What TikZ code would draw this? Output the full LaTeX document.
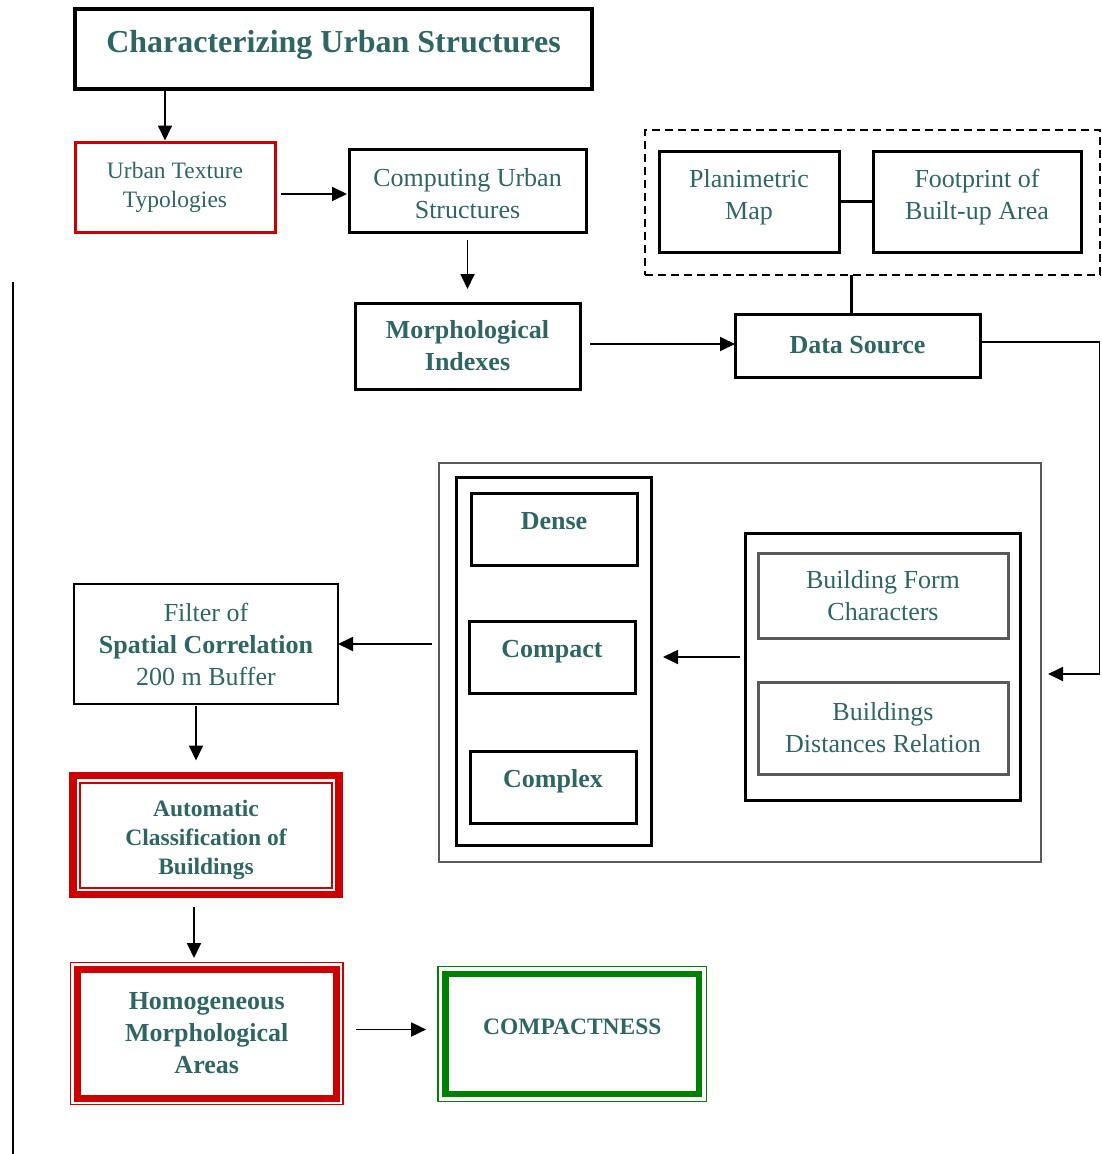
\documentclass[tikz,border=0pt]{standalone}
\usepackage{fontspec}
\setmainfont{Liberation Serif}
\usetikzlibrary{arrows.meta}

\definecolor{ink}{RGB}{47,102,97}
\definecolor{boxred}{RGB}{204,0,0}
\definecolor{boxgreen}{RGB}{0,128,0}
\definecolor{framegray}{RGB}{90,90,90}

\newcommand{\bodyfont}{\fontsize{26}{32}\selectfont}
\newcommand{\smallfont}{\fontsize{23.5}{29}\selectfont}
\newcommand{\headfont}{\fontsize{32}{38}\selectfont\bfseries}

\tikzset{
  box/.style={draw, line width=3pt, text=ink, align=center, font=\bodyfont, inner sep=0pt, outer sep=0pt},
  frame/.style={draw, line width=3pt, outer sep=0pt},
  lift/.style={text height=18pt, text depth=17pt},
  flow/.style={-{Triangle[length=15pt,width=14pt]}, line width=1.8pt},
}

\begin{document}
\begin{tikzpicture}[x=1pt,y=-1pt]
	\useasboundingbox (0,0) rectangle (1101,1154);
	
	% top row
	\node (title) [box, line width=4pt, font=\headfont, minimum width=517pt, minimum height=80pt, text height=22pt, text depth=15pt] at (333.5,49) {Characterizing Urban Structures};
	\node (typo) [box, draw=boxred, font=\smallfont, minimum width=200pt, minimum height=90pt] at (175,187) {Urban Texture\\Typologies};
	\node (compute) [box, minimum width=237pt, minimum height=83pt, text height=56pt] at (467.5,190.5) {Computing Urban\\Structures};
	\node (morph) [box, font={\bodyfont\bfseries}, minimum width=225pt, minimum height=86pt] at (467.5,346) {Morphological\\Indexes};
	
	% sources
	\node (maps) [frame, line width=2pt, dash pattern=on 8pt off 5pt, minimum width=455pt, minimum height=145pt] at (872.5,202.5) {};
	\node (plan) [box, minimum width=180pt, minimum height=101pt, text depth=14pt] at (749,201.5) {Planimetric\\Map};
	\node (foot) [box, minimum width=208pt, minimum height=101pt, text depth=14pt] at (977,201.5) {Footprint of\\Built-up Area};
	\node (data) [box, font={\bodyfont\bfseries}, minimum width=245pt, minimum height=63pt] at (857.5,345.5) {Data Source};
	
	% classes
	\node (outer) [frame, draw=framegray, line width=2.5pt, minimum width=602pt, minimum height=399pt] at (740,662.5) {};
	\node (types) [frame, minimum width=195pt, minimum height=368pt] at (553.5,661) {};
	\node (dense) [box, font={\bodyfont\bfseries}, lift, minimum width=166pt, minimum height=72pt] at (554,529) {Dense};
	\node (compact) [box, font={\bodyfont\bfseries}, lift, minimum width=166pt, minimum height=72pt] at (552,657) {Compact};
	\node (complex) [box, font={\bodyfont\bfseries}, lift, minimum width=166pt, minimum height=72pt] at (553,787) {Complex};
	\node (attrs) [frame, minimum width=275pt, minimum height=267pt] at (882.5,666.5) {};
	\node (form) [box, draw=framegray, minimum width=250pt, minimum height=85pt] at (883,595.5) {Building Form\\Characters};
	\node (dist) [box, draw=framegray, minimum width=250pt, minimum height=92pt] at (883,728) {Buildings\\Distances Relation};
	
	% left column
	\node (filter) [box, line width=1.5pt, minimum width=264pt, minimum height=120pt] at (206,644) {Filter of\\\textbf{Spatial Correlation}\\200 m Buffer};
	\node (auto) [box, draw=boxred, line width=7.5pt, font={\smallfont\bfseries}, minimum width=266pt, minimum height=119pt, text height=84pt] at (206,835) {Automatic\\Classification of\\Buildings};
	\draw[boxred, line width=2pt] ([shift={(7,7)}]auto.north west) rectangle ([shift={(-7,-7)}]auto.south east);
	\node (homog) [box, draw=boxred, line width=7pt, font={\bodyfont\bfseries}, minimum width=259.5pt, minimum height=129pt] at (206.75,1033.5) {Homogeneous\\Morphological\\Areas};
	\draw[boxred, line width=1.5pt] ([shift={(-6.5,-6.5)}]homog.north west) rectangle ([shift={(6.5,6.5)}]homog.south east);
	\node (compactness) [box, draw=boxgreen, line width=6.7pt, font={\smallfont\bfseries}, minimum width=253.3pt, minimum height=120pt, text height=16pt, text depth=16pt] at (572.3,1034) {COMPACTNESS};
	\draw[boxgreen, line width=1.5pt] ([shift={(-7.5,-7.5)}]compactness.north west) rectangle ([shift={(7.5,7.5)}]compactness.south east);
	
	% connectors
	\coordinate (t1) at ([xshift=-10pt]typo.north);
	\draw[flow, shorten >=1.5pt] (t1 |- title.south) -- (t1);
	\coordinate (t2) at ([yshift=-7pt]typo.east);
	\draw[flow, shorten <=6pt, shorten >=2pt] (t2) -- (t2 -| compute.west);
	\draw[flow, shorten <=8pt, shorten >=14pt] (compute.south) -- (morph.north);
	\coordinate (t8) at ([yshift=2pt]morph.east);
	\draw[flow, shorten <=10pt] (t8) -- (t8 -| data.west);
	\draw[line width=3pt] (plan.east) -- (foot.west);
	\coordinate (t3) at ([xshift=-6.5pt]data.north);
	\draw[line width=3pt] (t3) -- (t3 |- maps.south);
	\coordinate (t9) at ([yshift=3.5pt]data.east);
	\coordinate (t4) at (1099.5,674);
	\draw[flow, shorten >=7pt] (t9) -| (t4) -- (t4 -| outer.east);
	\draw[flow, shorten <=5pt, shorten >=12pt] (attrs.west |- compact) -- (types.east |- compact);
	\draw[flow, shorten <=7pt] (outer.west |- filter) -- (filter.east);
	\coordinate (t5) at ([xshift=-10pt]filter.south);
	\draw[flow, shorten <=2pt, shorten >=15pt] (t5) -- (t5 |- auto.north);
	\coordinate (t6) at ([xshift=-12pt]auto.south);
	\draw[flow, shorten <=12pt, shorten >=11pt] (t6) -- (t6 |- homog.north);
	\coordinate (t7) at ([yshift=4pt]homog.east);
	\draw[flow, shorten <=19.5pt, shorten >=19.5pt] (t7) -- (t7 -| compactness.west);
	
	\draw[line width=2pt] (13,282) -- (13,1154);
\end{tikzpicture}
\end{document}
